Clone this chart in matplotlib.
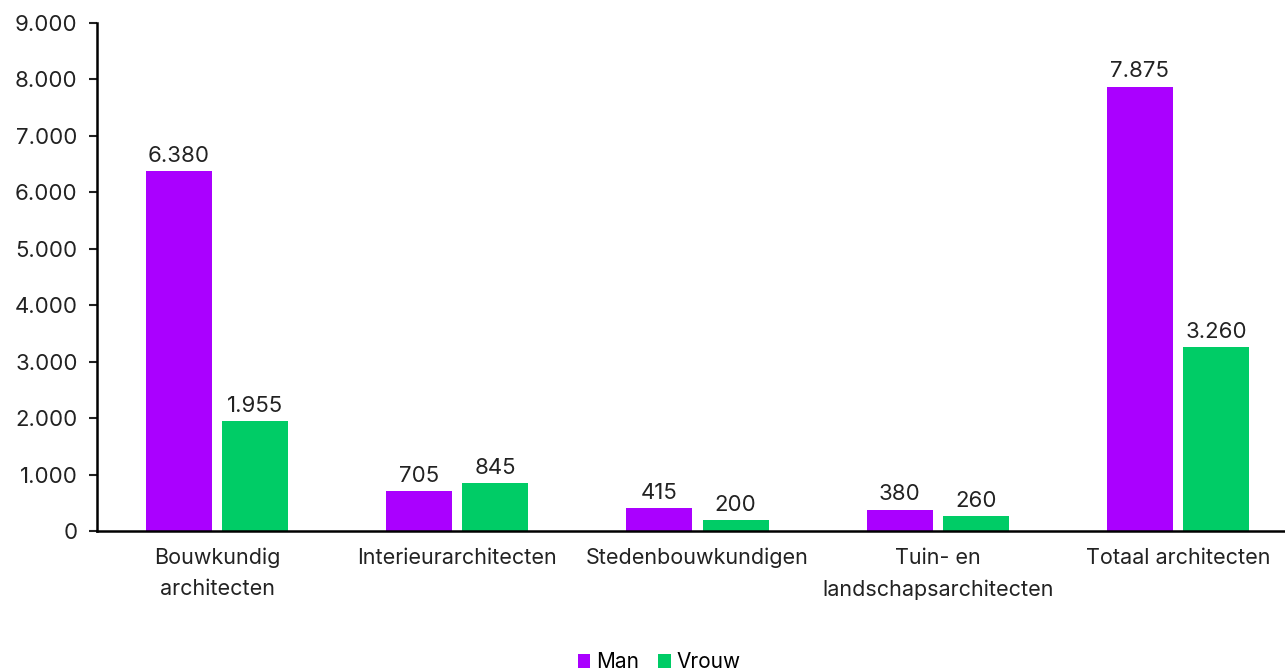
import numpy as np
import matplotlib.pyplot as plt

categories = ['Bouwkundig\narchitecten', 'Interieurarchitecten', 'Stedenbouwkundigen',
              'Tuin- en\nlandschapsarchitecten', 'Totaal architecten']
man = [6380, 705, 415, 380, 7875]
vrouw = [1955, 845, 200, 260, 3260]

plt.rcParams['font.family'] = ['Inter', 'DejaVu Sans']

def fmt(v):
    return f'{v:,}'.replace(',', '.')

fig = plt.figure(figsize=(12.85, 6.71), dpi=100)
ax = fig.add_axes([0.0755, 0.2086, 0.9245, 0.7571])

x = np.arange(len(categories))
w = 0.275
b1 = ax.bar(x - w/2 - 0.021, man, w, color='#AA00FF', label='Man')
b2 = ax.bar(x + w/2 + 0.021, vrouw, w, color='#00CC66', label='Vrouw')

for bars, vals in [(b1, man), (b2, vrouw)]:
    for r, v in zip(bars, vals):
        ax.text(r.get_x() + r.get_width()/2, v + 90, fmt(v), ha='center', va='bottom',
                fontsize=16, color='#222222')

ax.set_xlim(-0.5, 4.446)
ax.set_ylim(0, 9000)
ax.set_yticks(range(0, 9001, 1000))
ax.set_yticklabels([fmt(v) for v in range(0, 9001, 1000)])
ax.set_xticks(x)
ax.set_xticklabels(categories, linespacing=1.7)
ax.tick_params(axis='y', labelsize=16, length=6, width=1.5, pad=8, colors='#222222')
ax.tick_params(axis='x', labelsize=15.5, length=0, pad=12, colors='#222222')
for s in ['top', 'right']:
    ax.spines[s].set_visible(False)
for s in ['left', 'bottom']:
    ax.spines[s].set_linewidth(1.8)
    ax.spines[s].set_color('black')

fig.legend(handles=[b1, b2], loc='lower center', bbox_to_anchor=(0.513, -0.03), ncol=2,
           frameon=False, fontsize=15, handlelength=0.6, handleheight=0.6,
           handletextpad=0.3, columnspacing=0.9)

fig.savefig('out.png', dpi=100)
